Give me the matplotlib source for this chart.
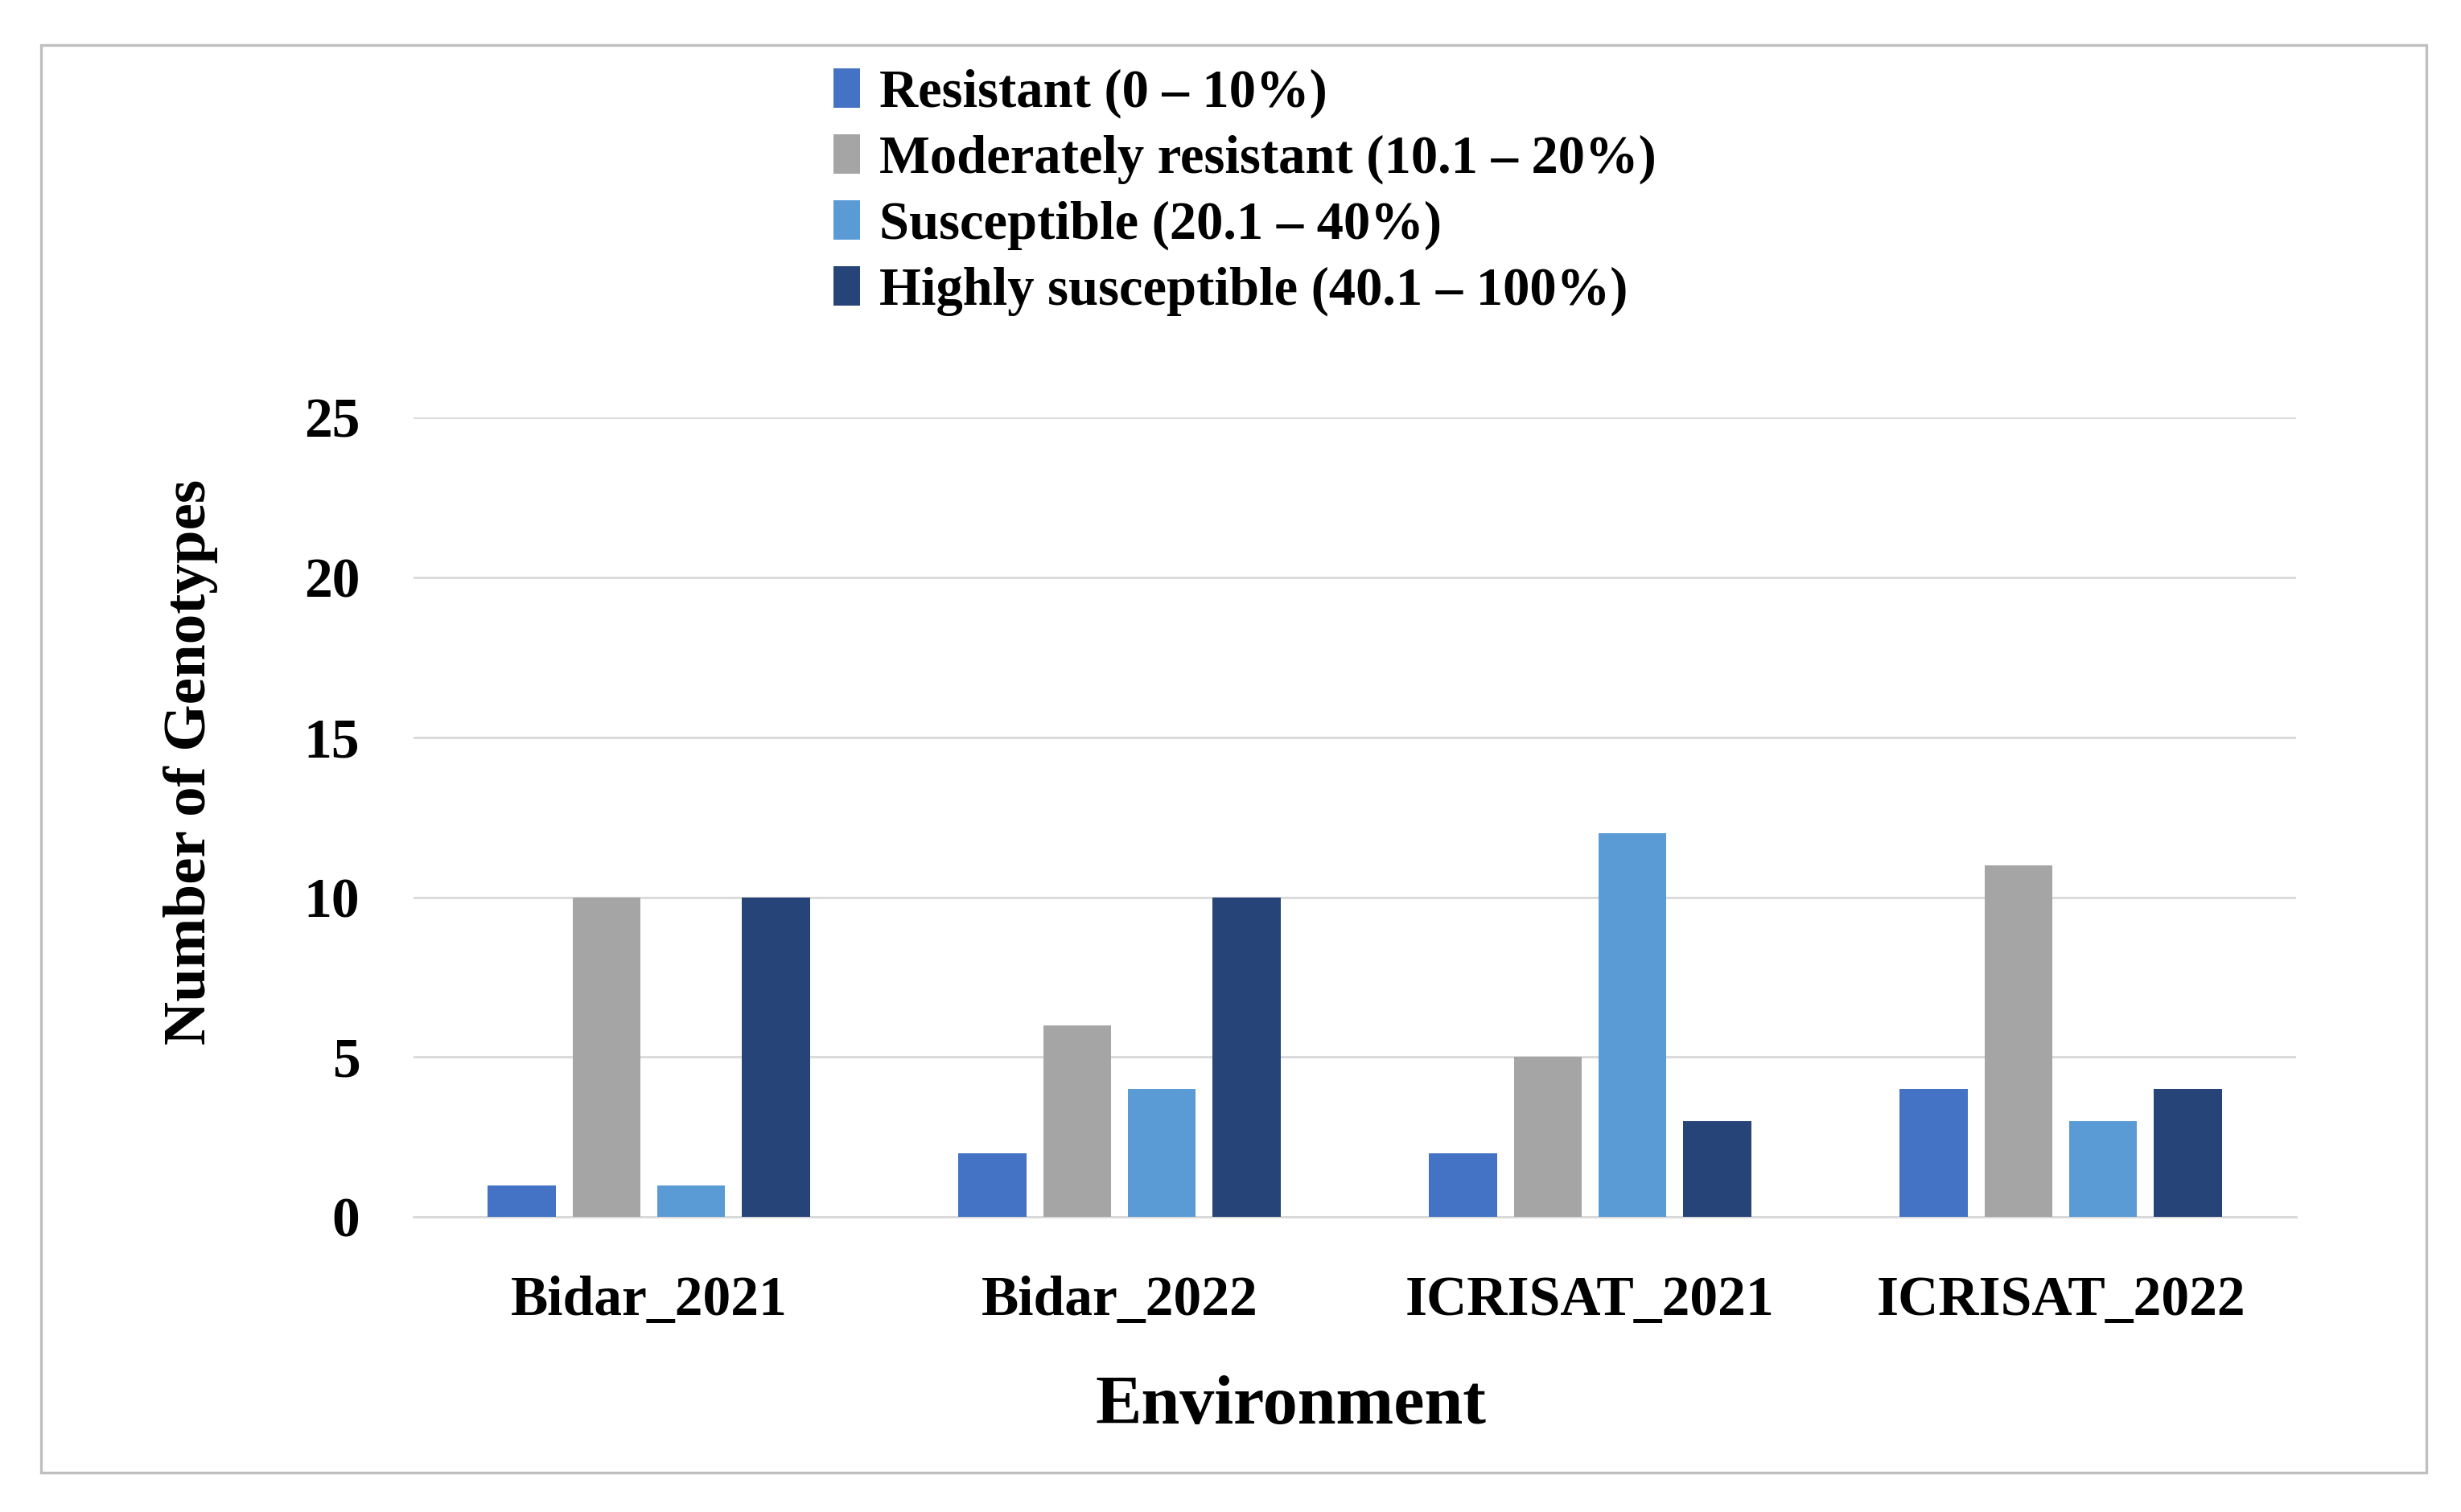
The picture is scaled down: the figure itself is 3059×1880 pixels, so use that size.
import matplotlib
matplotlib.use('Agg')
import matplotlib.pyplot as plt
from matplotlib.patches import Rectangle
import numpy as np

plt.rcParams['font.family'] = ['Liberation Serif', 'DejaVu Serif']
plt.rcParams['font.weight'] = 'bold'
plt.rcParams['axes.labelweight'] = 'bold'

environments = ['Bidar_2021', 'Bidar_2022', 'ICRISAT_2021', 'ICRISAT_2022']
resistant = [1, 2, 2, 4]
mod_resistant = [10, 6, 5, 11]
susceptible = [1, 4, 12, 3]
highly_susceptible = [10, 10, 3, 4]

series_labels = ['Resistant (0 \u2013 10%)',
                 'Moderately resistant (10.1 \u2013 20%)',
                 'Susceptible (20.1 \u2013 40%)',
                 'Highly susceptible (40.1 \u2013 100%)']
colors = ['#4472C4', '#A5A5A5', '#5B9BD5', '#264478']

fig = plt.figure(figsize=(15.295, 9.4), dpi=200)
ax = fig.add_axes([0.168, 0.195, 0.765, 0.529])

# outer frame
fig.patches.append(Rectangle((0.0166, 0.026), 0.9694, 0.944, transform=fig.transFigure,
                             fill=False, edgecolor='#BFBFBF', linewidth=1.2))

x = np.arange(len(environments))
pitch = 0.18
width = 0.144
all_series = [resistant, mod_resistant, susceptible, highly_susceptible]
handles = []
for i, (vals, col, lab) in enumerate(zip(all_series, colors, series_labels)):
    b = ax.bar(x + (i - 1.5) * pitch, vals, width, color=col, label=lab, zorder=3)
    handles.append(b)

ax.set_xlim(-0.5, 3.5)
ax.set_ylim(0, 25)
ax.set_yticks([0, 5, 10, 15, 20, 25])
ax.yaxis.grid(True, color='#D9D9D9', linewidth=1.0, zorder=0)
for s in ['top', 'right', 'left']:
    ax.spines[s].set_visible(False)
ax.spines['bottom'].set_color('#D9D9D9')
ax.spines['bottom'].set_linewidth(1.0)
ax.tick_params(axis='both', length=0, labelsize=25)
ax.tick_params(axis='y', pad=24)
ax.tick_params(axis='x', pad=26)
ax.set_xticks(x)
ax.set_xticklabels(environments)

ax.set_ylabel('Number of Genotypes', fontsize=27)
ax.yaxis.set_label_coords(-0.104, 0.569)
ax.set_xlabel('Environment', fontsize=31)
ax.xaxis.set_label_coords(0.466, -0.198)

fig.legend(handles=handles, loc='upper left', bbox_to_anchor=(0.330, 0.969),
           frameon=False, fontsize=24, handlelength=0.5, handleheight=0.75,
           handletextpad=0.35, labelspacing=0.3, borderaxespad=0)

fig.savefig('out.png', dpi=200, facecolor='white')
plt.close()
